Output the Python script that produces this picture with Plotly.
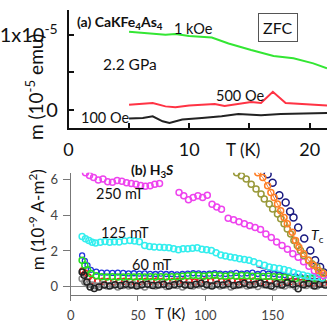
import plotly.graph_objects as go

# ---------------- Panel (a): CaKFe4As4, 2.2 GPa, ZFC ----------------
a_T_1kOe = [5.02, 8.04, 8.86, 10.0, 11.88, 13.27, 15.14, 17.0, 18.65, 20.29, 21.43]
a_m_1kOe = [1.044, 1.004, 1.013, 0.987, 0.968, 0.888, 0.80, 0.72, 0.688, 0.621, 0.555]

a_T_500Oe = [5.02, 6.98, 8.04, 8.86, 10.0, 11.06, 12.12, 12.94, 14.08, 15.14, 15.96, 16.94, 18.0, 19.22, 20.29, 21.43]
a_m_500Oe = [0.067, 0.088, 0.044, 0.031, 0.057, 0.067, 0.075, 0.048, 0.080, 0.101, 0.088, 0.240, 0.088, 0.075, 0.061, 0.057]

a_T_100Oe = [5.02, 6.16, 6.98, 7.80, 8.37, 9.43, 11.06, 12.69, 14.08, 15.96, 17.59, 19.22, 21.43]
a_m_100Oe = [-0.120, -0.112, -0.089, -0.156, -0.179, -0.133, -0.112, -0.089, -0.059, -0.076, -0.059, -0.049, -0.045]

a_xticks = [0, 10, 20]
a_yticks = [0, 1]
a_yticktext = ["0", "1x10<sup>-5</sup>"]

# ---------------- Panel (b): H3S ----------------
b_T_250 = [8.5, 11, 14, 17, 20.5, 24, 27.5, 31, 34.5, 38, 41.5, 45, 48.5, 52, 55.5, 59, 62.5, 66,
           80.5, 84, 87.5, 91, 94.5, 98, 101.5, 105, 108.5, 112,
           117, 121, 125, 129, 133, 137, 141, 145, 149, 153,
           157, 161, 165, 169, 173, 177, 181, 184.5, 188]
b_m_250 = [6.6, 6.35, 6.2, 6.09, 5.95, 6.0, 5.85, 5.82, 5.92, 5.88, 5.8, 5.76, 5.72, 5.65, 5.6, 5.63, 5.72, 5.75,
           5.26, 5.07, 4.85, 4.98, 5.07, 4.98, 5.1, 4.6, 4.45, 4.32,
           3.82, 3.74, 3.62, 3.52, 3.4, 3.3, 3.2, 2.95, 2.75, 2.5,
           2.3, 2.1, 1.85, 1.65, 1.4, 1.15, 0.9, 0.72, 0.62]

b_T_125 = [8.5, 11, 13.5, 16, 18.5, 22, 25.5, 29, 32.5, 36, 40, 44, 47.5, 51, 55, 58.5, 62, 66, 69.5, 73,
           76.5, 80, 83.5, 87, 90.5, 94, 97.5, 101, 104.5, 108, 111.5, 115, 118.5, 122, 125.5, 129, 132.5,
           136, 140, 144, 147.5, 151, 155, 158.5, 162, 165.5, 169, 172.5, 176, 179.5, 183, 186.5]
b_m_125 = [2.8, 2.68, 2.58, 2.49, 2.44, 2.49, 2.53, 2.48, 2.52, 2.5, 2.55, 2.58, 2.55, 2.52, 2.31, 2.25, 2.22, 2.21, 2.2, 2.18,
           2.12, 2.07, 2.13, 2.13, 2.15, 2.18, 2.1, 2.07, 2.03, 1.9, 1.78, 1.72, 1.66, 1.62, 1.57, 1.52, 1.48,
           1.4, 1.3, 1.2, 1.11, 1.06, 1.02, 0.97, 0.9, 0.8, 0.72, 0.66, 0.6, 0.55, 0.55, 0.5]

b_T_blue = [8.5, 10.5, 12.5, 15, 19, 23, 27, 31, 35, 39, 43, 47, 51, 55, 59, 63, 67, 71, 75, 79, 83, 87, 91, 95,
            99, 103, 107, 111, 115, 119, 123, 127, 131, 135, 139, 143, 147, 151, 155, 159, 163, 167, 171, 175,
            179, 183, 187]
b_m_blue = [1.75, 1.45, 1.2, 0.95, 0.85, 0.8, 0.8, 0.78, 0.8, 0.78, 0.75, 0.76, 0.74, 0.75, 0.73, 0.72, 0.74, 0.72,
            0.72, 0.7, 0.72, 0.74, 0.76, 0.75, 0.72, 0.74, 0.76, 0.74, 0.72, 0.75, 0.78, 0.74, 0.76, 0.8, 0.72,
            0.78, 0.74, 0.72, 0.68, 0.66, 0.6, 0.58, 0.54, 0.5, 0.5, 0.48, 0.46]

b_T_60 = [8.5, 10.5, 12.5, 15, 19, 23, 27, 31, 35, 39, 43, 47, 51, 55, 59, 63, 67, 71, 75, 79, 83, 87, 91, 95,
          99, 103, 107, 111, 115, 119, 123, 127, 131, 135, 139, 143, 147, 151, 155, 159, 163, 167, 171, 175,
          179, 183, 187]
b_m_60 = [1.48, 1.2, 0.95, 0.74, 0.62, 0.57, 0.55, 0.57, 0.55, 0.55, 0.57, 0.55, 0.56, 0.55, 0.57, 0.55, 0.56,
          0.55, 0.56, 0.57, 0.6, 0.62, 0.65, 0.64, 0.6, 0.63, 0.65, 0.62, 0.6, 0.64, 0.6, 0.63, 0.62, 0.6, 0.6,
          0.58, 0.6, 0.57, 0.55, 0.52, 0.5, 0.47, 0.46, 0.44, 0.45, 0.43, 0.45]

b_T_red = [9, 11, 13, 16, 20, 24, 28, 32, 36, 40, 44, 48, 52, 56, 60, 64, 68, 72, 76, 80, 84, 88, 92, 96, 100,
           104, 108, 112, 116, 120, 124, 128, 132, 136, 140, 144, 148, 152, 156, 160, 164, 168, 172, 176, 180,
           184, 188]
b_m_red = [0.9, 0.74, 0.55, 0.37, 0.3, 0.32, 0.3, 0.28, 0.3, 0.32, 0.3, 0.28, 0.3, 0.32, 0.3, 0.33, 0.3, 0.28,
           0.3, 0.32, 0.33, 0.3, 0.28, 0.3, 0.33, 0.3, 0.35, 0.3, 0.28, 0.32, 0.3, 0.28, 0.3, 0.33, 0.3, 0.28,
           0.3, 0.27, 0.25, 0.28, 0.3, 0.27, 0.25, 0.23, 0.22, 0.2, 0.22]

b_T_gray = [8.5, 10.5, 13, 16, 19, 23, 27, 31, 35, 39, 43, 47, 51, 55, 59, 63, 67, 71, 75, 79, 83, 87, 91, 95,
            99, 103, 107, 111, 115, 119, 123, 127, 131, 135, 139, 143, 147, 151, 155, 159, 163, 167, 171, 175,
            179, 183, 187]
b_m_gray = [0.46, 0.28, 0.15, 0.1, 0.05, 0.12, 0.05, 0.1, 0.0, 0.08, 0.05, 0.12, 0.08, 0.0, 0.1, 0.05, 0.12,
            0.02, 0.1, 0.08, 0.0, 0.12, 0.05, 0.1, 0.02, 0.08, 0.12, 0.05, 0.1, 0.0, 0.08, 0.12, 0.05, 0.1,
            0.02, 0.12, 0.08, 0.0, 0.1, 0.05, 0.12, 0.02, 0.15, 0.08, 0.1, 0.05, 0.15]

b_T_black = [8.5, 10, 12, 14.5, 17.5, 21, 25, 29, 33, 37, 41, 45, 49, 53, 57, 61, 65, 69, 73, 77, 81, 85, 89,
             93, 97, 101, 105, 109, 113, 117, 121, 125, 129, 133, 137, 141, 145, 149, 153, 157, 161, 165, 169,
             173, 177, 181, 185, 189]
b_m_black = [0.83, 0.65, 0.28, 0.0, -0.09, 0.0, 0.1, 0.05, 0.12, 0.08, 0.15, 0.1, 0.05, 0.12, 0.15, 0.08, 0.1,
             0.15, 0.05, 0.12, 0.18, 0.1, 0.08, 0.15, 0.2, 0.12, 0.05, 0.15, 0.1, 0.18, 0.08, 0.12, 0.2, 0.1,
             0.15, 0.22, 0.12, 0.05, 0.18, 0.1, 0.25, 0.15, -0.1, 0.12, 0.2, 0.05, 0.15, 0.1]

b_T_purple = [138, 145, 150, 157, 165, 175, 185]
b_m_purple = [1.13, 1.0, 0.9, 0.75, 0.6, 0.5, 0.45]

b_T_olive = [116, 119.5, 123.3, 126.8, 130.4, 134.1, 137.7, 141.4, 143.8, 147.5, 150, 153.6, 156, 158.5, 160.9,
             163.4, 165.8, 168.3, 170.7, 173.1, 176.7, 179.2, 182.9, 186.5]
b_m_olive = [6.85, 6.6, 6.36, 6.18, 6.0, 5.72, 5.45, 5.17, 4.89, 4.62, 4.34, 4.06, 3.79, 3.51, 3.23, 2.95, 2.58,
             2.31, 2.03, 1.75, 1.48, 1.29, 1.11, 0.83]

b_T_orange = [135, 137, 139, 142.7, 146.3, 148.7, 151.1, 153.6, 156, 158.5, 160.9, 164.6, 167, 169.5, 173.1,
              176.7, 180.4, 184.1, 187.7]
b_m_orange = [6.9, 6.6, 6.36, 6.09, 5.63, 5.26, 4.98, 4.62, 4.24, 3.87, 3.51, 3.04, 2.58, 2.21, 1.85, 1.48, 1.2,
              0.92, 0.74]

b_T_navy = [146.3, 150, 155, 159.7, 163, 165.5, 169, 173.5, 178, 181.6, 185.3, 188]
b_m_navy = [6.27, 5.8, 5.1, 4.7, 4.2, 3.87, 3.3, 2.7, 2.03, 1.48, 1.11, 0.8]

b_xticks = [0, 50, 100, 150]
b_yticks = [0, 2, 4, 6]

FONT = "Lato"
W, H = 327, 323

fig = go.Figure()

# Panel (a) traces
for T, m, col in [(a_T_1kOe, a_m_1kOe, "#33e633"),
                  (a_T_500Oe, a_m_500Oe, "#ff3344"),
                  (a_T_100Oe, a_m_100Oe, "#222222")]:
    fig.add_trace(go.Scatter(x=T, y=m, mode="lines", line=dict(color=col, width=2),
                             xaxis="x", yaxis="y", showlegend=False))

# Panel (b) traces
def circ(T, m, col, size=6, lw=1.5, mode="markers", linew=1.2):
    fig.add_trace(go.Scatter(x=T, y=m, mode=mode,
                             marker=dict(symbol="circle-open", size=size, color=col,
                                         line=dict(width=lw, color=col)),
                             line=dict(color=col, width=linew),
                             xaxis="x2", yaxis="y2", showlegend=False))

circ(b_T_purple, b_m_purple, "#7a2a8a", mode="lines", linew=1.2)
circ(b_T_blue, b_m_blue, "#2233dd", size=5, lw=1.3)
circ(b_T_red, b_m_red, "#ee2222")
circ(b_T_60, b_m_60, "#22dd22")
circ(b_T_gray, b_m_gray, "#8a8a8a")
circ(b_T_black, b_m_black, "#222222")
circ(b_T_125, b_m_125, "#33eeee")
circ(b_T_250, b_m_250, "#ee44ee")
circ(b_T_navy, b_m_navy, "#1a1a80", size=7)
circ(b_T_olive, b_m_olive, "#99993a")
circ(b_T_orange, b_m_orange, "#ff7f27", mode="lines+markers", linew=1)

def px_x(x):
    return x / W

def px_y(y):
    return 1 - y / H

fig.update_layout(
    width=W, height=H,
    margin=dict(l=0, r=0, t=0, b=0),
    paper_bgcolor="white", plot_bgcolor="white",
    font=dict(family=FONT, color="#111111"),
    xaxis=dict(domain=[px_x(64.5), 1], anchor="y", range=[0, 21.43],
               tickmode="array", tickvals=a_xticks, ticks="inside", ticklen=5, tickwidth=1.5,
               tickcolor="#111", showline=True, linecolor="#111", linewidth=1.5,
               showgrid=False, zeroline=False, tickfont=dict(size=18, color="#111"),
               ticklabelstandoff=4,
               minor=dict(tickvals=[5, 15], ticks="inside", ticklen=5, tickwidth=1.5, tickcolor="#111")),
    yaxis=dict(domain=[px_y(127), px_y(8)], anchor="x", range=[-0.249, 1.337],
               tickmode="array", tickvals=a_yticks, ticktext=a_yticktext,
               ticks="inside", ticklen=6, tickwidth=1.5, tickcolor="#111",
               showline=True, linecolor="#111", linewidth=1.5, showgrid=False, zeroline=False,
               tickfont=dict(size=20, color="#111"), ticklabelstandoff=5,
               minor=dict(tickvals=[0.5], ticks="inside", ticklen=6, tickwidth=1.5, tickcolor="#111")),
    xaxis2=dict(domain=[px_x(66.7), 1], anchor="y2", range=[0, 190.4],
                tickmode="array", tickvals=b_xticks, ticks="outside", ticklen=5, tickwidth=1,
                tickcolor="#777", showline=True, linecolor="#777", linewidth=1,
                showgrid=False, zeroline=False, tickfont=dict(size=13, color="#444"),
                ticklabelstandoff=3),
    yaxis2=dict(domain=[px_y(295), px_y(171.7)], anchor="x2", range=[-0.46, 6.36],
                tickmode="array", tickvals=b_yticks, ticks="outside", ticklen=7, tickwidth=1,
                tickcolor="#777", showline=True, linecolor="#777", linewidth=1,
                showgrid=False, zeroline=True, zerolinecolor="#888", zerolinewidth=1,
                tickfont=dict(size=13, color="#444"), ticklabelstandoff=2),
)

ann = []
def A(text, x, y, size, xanchor="center", yanchor="middle", angle=0, **kw):
    ann.append(dict(text=text, x=px_x(x), y=px_y(y), xref="paper", yref="paper",
                    showarrow=False, xanchor=xanchor, yanchor=yanchor, textangle=angle,
                    font=dict(family=FONT, size=size, color=kw.pop("color", "#111")), **kw))

# Panel (a) texts
A("<b>(a) CaKFe<sub>4</sub>As<sub>4</sub></b>", 71, 21, 14, xanchor="left")
A("1 kOe", 170, 27, 14.5, xanchor="left")
A("ZFC", 277, 26, 16, bordercolor="#555", borderwidth=1, borderpad=4)
A("2.2 GPa", 97, 62, 15.5, xanchor="left")
A("500 Oe", 212, 94, 14.5, xanchor="left")
A("100 Oe", 75, 116, 14.5, xanchor="left")
A("T (K)", 241.5, 148, 17)
A("m (10<sup>-5</sup> emu)", 30, 86, 19, angle=-90)

# Panel (b) texts
A("<b>(b) H<sub>3</sub><i>S</i></b>", 126, 170, 14, xanchor="left")
A("250 mT", 90, 193, 14.5, xanchor="left")
A("125 mT", 95, 232, 14.5, xanchor="left")
A("60 mT", 127, 264, 14.5, xanchor="left")
A("<i>T</i><sub>c</sub>", 317, 235, 14)
A("T (K)", 167.5, 313, 15)
A("m (10<sup>-9</sup> A-m<sup>2</sup>)", 32, 219, 17, angle=-90)

fig.update_layout(annotations=ann)

fig.write_html("out.html", config={"displayModeBar": False},
               post_script="document.body.style.margin='0';document.body.style.overflow='hidden';")
